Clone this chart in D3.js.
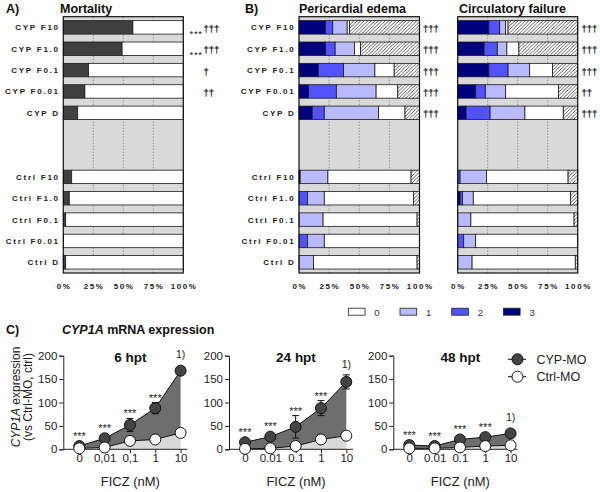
<!DOCTYPE html>
<html><head><meta charset="utf-8">
<script src="https://cdn.jsdelivr.net/npm/d3@7"></script>
<style>body{margin:0;background:#fff} svg{display:block;font-family:"Liberation Sans",Arial,sans-serif} .dag{-webkit-font-smoothing:antialiased}</style>
</head><body><svg id="c" width="600" height="492"></svg>
<script>
// ---------- data: panels A & B ----------
const rowLabels = ["CYP F10","CYP F1.0","CYP F0.1","CYP F0.01","CYP D","Ctrl F10","Ctrl F1.0","Ctrl F0.1","Ctrl F0.01","Ctrl D"];
const rowOrder = [...rowLabels.slice(0,5),"gapA","gapB",...rowLabels.slice(5)];
const mortality = [58,49,21,18,12,7,5,2,0,2];
const mortStars = ["***","***","","",""];
const mortDaggers = ["†††","†††","†","††",""];
const edemaScore3 = [22,22,16,8,11,1,0,0,0,0];
const edemaScore2 = [6,8,21,23,10,0,7,0,7,0];
const edemaScore1 = [12,16,26,33,45,23,14,20,14,12];
const edemaScore0 = [2,5,16,18,22,69,74,78,79,86];
const edemaDead   = [58,49,21,18,12,7,5,2,0,2];
const edemaDaggers = ["†††","†††","†††","†††","†††"];
const circScore3 = [26,22,26,15,7,0,2,0,0,0];
const circScore2 = [9,11,16,8,20,2,2,0,5,0];
const circScore1 = [5,8,18,17,29,22,9,11,10,12];
const circScore0 = [2,10,19,44,32,68,81,86,85,86];
const circDead   = [58,49,21,16,12,8,6,3,0,2];
const circDaggers = ["†††","†††","†††","††","†††"];
const pctTicks = [0,25,50,75,100];
const scoreLegend = ["0","1","2","3"];

// ---------- data: panel C ----------
const doses = ["0","0.01","0.1","1","10"];
const doseLabels6 = ["0","0,01","0,1","1","10"];
const doseLabels = ["0","0.01","0.1","1","10"];
const timepoints = ["6 hpt","24 hpt","48 hpt"];
const cyp6 = [7,23.5,52,88,168];   const cyp6Err = [2,3,14,12,8.5];
const ctrl6 = [2,4,18,21,35];      const ctrl6Err = [0,0,1,1,1];
const cyp24 = [15,27,48,88,144];   const cyp24Err = [2,3,24,16,15];
const ctrl24 = [1,2,7,21,29];      const ctrl24Err = [0,0,1,5,2];
const cyp48 = [9,7,21,26,34];      const cyp48Err = [1,1,2,2,3];
const ctrl48 = [2,2,4,7,8.5];      const ctrl48Err = [0,0,1,1,1];
const sigLabels = ["***","***","***","***","1)"];
const yTicks = [0,50,100,150,200];

// ---------- drawing ----------
const svg = d3.select("#c");
const defs = svg.append("defs");
const pat = defs.append("pattern").attr("id","hatch").attr("patternUnits","userSpaceOnUse")
  .attr("width",3.5).attr("height",3.5);
pat.append("rect").attr("width",3.5).attr("height",3.5).attr("fill","#fff");
pat.append("path").attr("d","M-1,1 l2,-2 M0,3.5 l3.5,-3.5 M2.5,4.5 l2,-2")
  .attr("stroke","#333").attr("stroke-width",0.8);

const C3="#00007e", C2="#5252ff", C1="#babaff";
const yRow = d3.scaleBand().domain(rowOrder).range([16.7,273]).paddingInner(0.37).paddingOuter(0.185);

function stackedPanel(x0,x1,keys,arrays,colors,showLabels){
  const g = svg.append("g");
  const x = d3.scaleLinear().domain([0,100]).range([x0,x1]);
  const table = rowLabels.map((r,i)=>{const o={row:r}; keys.forEach((k,j)=>o[k]=arrays[j][i]); return o;});
  const series = d3.stack().keys(keys)(table);
  g.append("rect").attr("x",x0).attr("y",16.7).attr("width",x1-x0).attr("height",273-16.7).attr("fill","#d9d9d9");
  g.selectAll(".grid").data([25,50,75]).join("line")
    .attr("x1",d=>x(d)).attr("x2",d=>x(d)).attr("y1",16.7).attr("y2",273)
    .attr("stroke","#555").attr("stroke-width",0.8).attr("stroke-dasharray","1,2");
  series.forEach((s,j)=>{
    g.selectAll(null).data(s.filter(d=>d[1]-d[0]>0)).join("rect")
      .attr("x",d=>x(d[0])).attr("width",d=>x(d[1])-x(d[0]))
      .attr("y",d=>yRow(d.data.row)).attr("height",yRow.bandwidth())
      .attr("fill",colors[j]).attr("stroke","#1a1a1a").attr("stroke-width",0.8);
  });
  g.append("rect").attr("x",x0).attr("y",16.7).attr("width",x1-x0).attr("height",273-16.7)
    .attr("fill","none").attr("stroke","#111").attr("stroke-width",1.2);
  g.selectAll(".pt").data(pctTicks).join("text")
    .attr("x",d=>x(d)+0.8).attr("y",288.5).attr("text-anchor","middle")
    .attr("font-size",8).attr("font-weight","bold").attr("letter-spacing",1.6).attr("fill","#222")
    .text(d=>d+"%");
  if(showLabels){
    g.selectAll(".rl").data(rowLabels).join("text")
      .attr("x",x0-3.5).attr("y",d=>yRow(d)+yRow.bandwidth()/2+3)
      .attr("text-anchor","end").attr("font-size",8).attr("font-weight","bold")
      .attr("letter-spacing",1.75).attr("fill","#222").text(d=>d);
  }
  return x;
}

const hatch = "url(#hatch)";
stackedPanel(63.3,183.3,["dead","alive"],[mortality,mortality.map(v=>100-v)],["#404040","#fff"],true);
stackedPanel(299,419.5,["s3","s2","s1","s0","dead"],[edemaScore3,edemaScore2,edemaScore1,edemaScore0,edemaDead],[C3,C2,C1,"#fff",hatch],true);
stackedPanel(457.7,577.7,["s3","s2","s1","s0","dead"],[circScore3,circScore2,circScore1,circScore0,circDead],[C3,C2,C1,"#fff",hatch],false);

// annotations
const cypRows = rowLabels.slice(0,5);
svg.selectAll(".ms").data(mortStars).join("text")
  .attr("x",202.5).attr("y",(d,i)=>yRow(cypRows[i])+yRow.bandwidth()/2+9.5)
  .attr("text-anchor","end").attr("font-size",9.5).attr("letter-spacing",0.6).attr("fill","#222").text(d=>d);
function daggers(arr,x0){
  svg.selectAll(null).data(arr).join("text").attr("class","dag")
    .attr("x",x0).attr("y",(d,i)=>yRow(cypRows[i])+yRow.bandwidth()/2+4.5)
    .attr("font-size",9.5).attr("fill","#222").attr("stroke","#222").attr("stroke-width",0.25).text(d=>d);
}
daggers(mortDaggers,203.5);
daggers(edemaDaggers,423);
daggers(circDaggers,581.5);

// titles
const T = (x,y,t,fs)=>svg.append("text").attr("x",x).attr("y",y).attr("font-size",fs||12.5).attr("font-weight","bold").attr("fill","#111").text(t);
T(6,13,"A)"); T(60,13,"Mortality");
T(245,13,"B)"); T(299,13,"Pericardial edema");
T(459,13,"Circulatory failure");

// score legend
const legCols = ["#fff",C1,C2,C3];
const lg = svg.append("g");
scoreLegend.forEach((s,i)=>{
  const lx = 348.3 + i*51.7;
  lg.append("rect").attr("x",lx).attr("y",308.2).attr("width",16.7).attr("height",7)
    .attr("fill",legCols[i]).attr("stroke","#222").attr("stroke-width",0.8);
  lg.append("text").attr("x",lx+26).attr("y",315.8).attr("font-size",9.5).attr("fill","#333").text(s);
});

// ---------- panel C ----------
svg.append("text").attr("x",6).attr("y",334).attr("font-size",12.5).attr("font-weight","bold").attr("fill","#111").text("C)");
const tC2 = svg.append("text").attr("x",62).attr("y",334).attr("font-size",12.5).attr("font-weight","bold").attr("fill","#111");
tC2.append("tspan").attr("font-style","italic").text("CYP1A");
tC2.append("tspan").text(" mRNA expression");

const yC = d3.scaleLinear().domain([0,200]).range([449.3,355.7]);
const axisXs = [63.3,229,393.3];
const cypSets = [cyp6,cyp24,cyp48], cypErrs=[cyp6Err,cyp24Err,cyp48Err];
const ctrlSets = [ctrl6,ctrl24,ctrl48], ctrlErrs=[ctrl6Err,ctrl24Err,ctrl48Err];
const labelSets = [doseLabels6,doseLabels,doseLabels];

timepoints.forEach((tp,k)=>{
  const ax = axisXs[k];
  const g = svg.append("g");
  const x = d3.scalePoint().domain(doses).range([ax+16, ax+117.3]);
  const cyp = cypSets[k], ctrl = ctrlSets[k];
  const pts = doses.map((d,i)=>({d, c:cyp[i], ce:cypErrs[k][i], t:ctrl[i], te:ctrlErrs[k][i], s:sigLabels[i]}));
  g.append("path").datum(pts).attr("fill","#d9d9d9")
    .attr("d",d3.area().x(p=>x(p.d)).y0(yC(0)).y1(p=>yC(p.t)));
  g.append("path").datum(pts).attr("fill","#6e6e6e")
    .attr("d",d3.area().x(p=>x(p.d)).y0(p=>yC(p.t)).y1(p=>yC(p.c)));
  const yA = d3.axisLeft(yC).tickValues(yTicks).tickSize(4).tickPadding(2);
  const ya = g.append("g").attr("transform",`translate(${ax},0)`).call(yA);
  ya.select(".domain").attr("stroke","#222").attr("stroke-width",1);
  ya.selectAll(".tick line").attr("stroke","#222");
  ya.selectAll("text").attr("font-size",11.5).attr("fill","#222").attr("font-family","Liberation Sans, Arial, sans-serif");
  g.append("line").attr("x1",ax).attr("x2",ax+124).attr("y1",yC(0)).attr("y2",yC(0)).attr("stroke","#222");
  const xA = d3.axisBottom(x).tickSize(4).tickPadding(1).tickFormat((d,i)=>labelSets[k][i]);
  const xa = g.append("g").attr("transform",`translate(0,${yC(0)})`).call(xA);
  xa.select(".domain").remove();
  xa.selectAll(".tick line").attr("stroke","#222");
  xa.selectAll("text").attr("font-size",11.5).attr("fill","#222").attr("font-family","Liberation Sans, Arial, sans-serif");
  g.append("path").datum(pts).attr("fill","none").attr("stroke","#111").attr("stroke-width",1)
    .attr("d",d3.line().x(p=>x(p.d)).y(p=>yC(p.c)));
  g.append("path").datum(pts).attr("fill","none").attr("stroke","#111").attr("stroke-width",1)
    .attr("d",d3.line().x(p=>x(p.d)).y(p=>yC(p.t)));
  const eb = (val,err,cx)=>{
    if(err<=0) return;
    g.append("line").attr("x1",cx).attr("x2",cx).attr("y1",yC(val-err)).attr("y2",yC(val+err)).attr("stroke","#111").attr("stroke-width",1);
    [val-err,val+err].forEach(v=>g.append("line").attr("x1",cx-3.5).attr("x2",cx+3.5).attr("y1",yC(v)).attr("y2",yC(v)).attr("stroke","#111").attr("stroke-width",1));
  };
  pts.forEach(p=>{eb(p.c,p.ce,x(p.d)); eb(p.t,p.te,x(p.d));});
  g.selectAll(".cc").data(pts).join("circle").attr("cx",p=>x(p.d)).attr("cy",p=>yC(p.c)).attr("r",5.5)
    .attr("fill","#444").attr("stroke","#111").attr("stroke-width",1);
  g.selectAll(".tc").data(pts).join("circle").attr("cx",p=>x(p.d)).attr("cy",p=>yC(p.t)).attr("r",5.5)
    .attr("fill","#fff").attr("stroke","#111").attr("stroke-width",1);
  g.selectAll(".sg").data(pts).join("text")
    .attr("x",p=>x(p.d)).attr("text-anchor","middle")
    .attr("y",p=>{const top=Math.min(yC(p.c+p.ce), yC(p.c)-5.5); return p.s==="1)" ? top-11+4 : top-7+6;})
    .attr("font-size",p=>p.s==="1)"?10.5:11).attr("fill","#222").text(p=>p.s);
  g.append("text").attr("x",ax+67).attr("y",362).attr("text-anchor","middle").attr("font-size",13.5)
    .attr("font-weight","bold").attr("fill","#111").text(tp);
  g.append("text").attr("x",ax+67).attr("y",486).attr("text-anchor","middle").attr("font-size",13)
    .attr("fill","#222").text("FICZ (nM)");
});

const yt = svg.append("text").attr("transform","translate(19.5,397) rotate(-90)").attr("text-anchor","middle")
  .attr("font-size",12).attr("fill","#222");
yt.append("tspan").attr("font-style","italic").text("CYP1A");
yt.append("tspan").text(" expression");
svg.append("text").attr("transform","translate(31.5,397) rotate(-90)").attr("text-anchor","middle")
  .attr("font-size",12).attr("fill","#222").text("(vs Ctrl-MO, ctrl)");

const legItems = [{n:"CYP-MO",f:"#444"},{n:"Ctrl-MO",f:"#fff"}];
legItems.forEach((it,i)=>{
  const ly = 359.3 + i*17.4;
  svg.append("line").attr("x1",508).attr("x2",526).attr("y1",ly).attr("y2",ly).attr("stroke","#111");
  svg.append("circle").attr("cx",517.5).attr("cy",ly).attr("r",5.5).attr("fill",it.f).attr("stroke","#111");
  svg.append("text").attr("x",536.5).attr("y",ly+4.5).attr("font-size",12.5).attr("fill","#222").text(it.n);
});
</script></body></html>
